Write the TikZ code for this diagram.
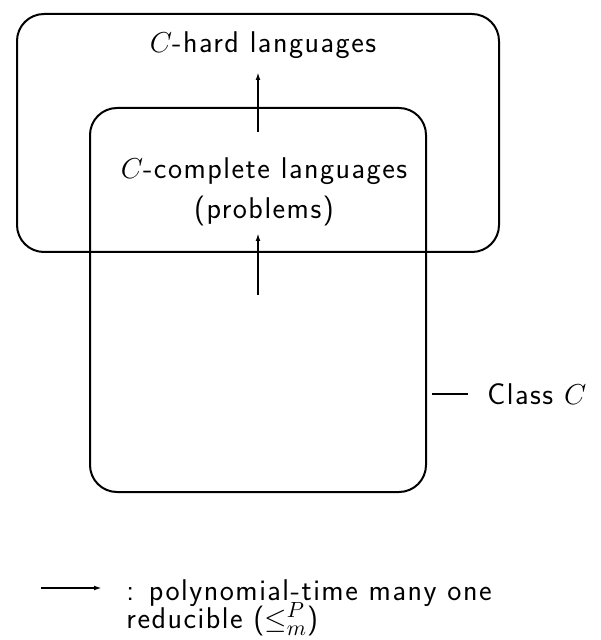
\documentclass[tikz,border=0pt]{standalone}
\usepackage{fontspec}
\setsansfont{Latin Modern Sans}[LetterSpace=5]
\usetikzlibrary{arrows.meta}
\begin{document}
\begin{tikzpicture}[x=0.5pt,y=-0.5pt,
  box/.style={draw,line width=1pt,rounded corners=13.5pt},
  lbl/.style={font=\sffamily\fontsize{15}{20}\selectfont,inner sep=0pt},
  red/.style={line width=1pt,-{Latex[length=4pt,width=2.4pt]}}]
\useasboundingbox (0,0) rectangle (600,640);
\draw[box] (17,14) rectangle (499,252);
\draw[box] (90,108) rectangle (426,492);
\node[lbl] (hard) at (263,45) {$C$-hard languages};
\node[lbl,align=center] (comp) at (264,192) {$C$-complete languages\\(problems)};
\coordinate (a1s) at (258,132);
\coordinate (a1e) at (258,72);
\coordinate (a2s) at (258,295);
\coordinate (a2e) at (258,233);
\draw[red] (a1s) -- (a1e);
\draw[red] (a2s) -- (a2e);
\coordinate (cl) at (432,394);
\node[lbl,anchor=west] (cls) at (487,394) {Class $C$};
\draw[line width=1pt] (cl) -- ++(36,0);
\coordinate (ls) at (41,588);
\coordinate (le) at (102,588);
\draw[red] (ls) -- (le);
\node[lbl,anchor=base west] (leg1) at (126,600) {: polynomial-time many one};
\node[lbl,anchor=base west] (leg2) at (126,628) {reducible ($\leq_m^P$)};
\end{tikzpicture}
\end{document}
